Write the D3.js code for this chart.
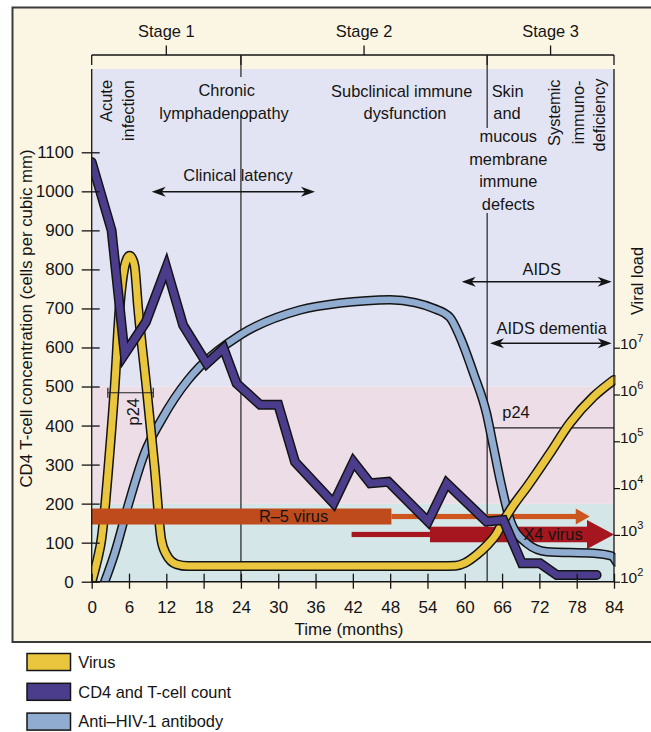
<!DOCTYPE html>
<html><head><meta charset="utf-8">
<script src="https://cdn.jsdelivr.net/npm/d3@7"></script>
<style>html,body{margin:0;padding:0;background:#fff}svg{display:block;font-family:"Liberation Sans",Arial,Helvetica,sans-serif}</style>
</head><body><svg id="c" width="651" height="732"></svg>
<script>
// ---------------- DATA ----------------
const xTicks = [0, 6, 12, 18, 24, 30, 36, 42, 48, 54, 60, 66, 72, 78, 84];
const yTicks = [0, 100, 200, 300, 400, 500, 600, 700, 800, 900, 1000, 1100];
const viralExponents = [2, 3, 4, 5, 6, 7];

const virusMonths = [0, 0.5, 1.0, 1.55, 2.2, 2.7, 3.7, 4.5, 5.3, 5.7, 6.1, 6.5, 6.9, 7.45, 8.8, 10.1, 11.2, 12.0, 13.6, 15.5, 20, 40, 56, 58.5, 60, 62, 63.5, 65, 66.2, 68, 70, 73.7, 76.9, 80.7, 84];
const virusValues = [0, 30, 62, 107, 201, 295, 500, 704, 808, 828, 835, 828, 808, 704, 500, 295, 107, 70, 45, 40, 40, 40, 40, 41, 48, 70, 92, 120, 155, 200, 243, 329, 406, 474, 517];

const cd4Months = [0, 3.2, 5.3, 8.7, 12.0, 14.7, 18.5, 21.2, 23.3, 27.1, 30.0, 32.7, 38.9, 42.1, 44.8, 47.7, 54.1, 57.1, 63.5, 66.2, 69.2, 72.1, 74.8, 81.2];
const cd4Values = [1075, 900, 583, 665, 805, 657, 559, 598, 508, 453, 453, 307, 201, 307, 252, 256, 154, 252, 154, 158, 47, 47, 17, 17];

const antibodyMonths = [2.1, 3.7, 5.8, 8.5, 11.2, 15.5, 17.4, 23.9, 33.5, 40, 44.2, 48, 52, 55, 57.6, 59.2, 61.4, 63.5, 64.6, 65.7, 67.3, 70, 73.2, 80.7, 83.6, 84.4];
const antibodyValues = [0, 73, 192, 329, 414, 517, 551, 632, 696, 714, 720, 722, 715, 700, 677, 628, 534, 431, 346, 260, 158, 98, 77, 73, 66, 50];

const zoneLimits = [0, 200, 500];               // CD4 zones (cells/mm3)
const stageNames = ["Stage 1", "Stage 2", "Stage 3"];
const stageBounds = [0, 24, 63.6, 84];           // months
const r5Span = [0, 48.2, 80.1];                  // band start, band end, arrow tip (months)
const r5Level = 167;                             // CD4 units
const x4Span = [41.8, 54.4, 84];                 // thin start, thick start, tip (months)
const x4Level = 121;
const p24Early = [2.6, 9.9, 484];                // months from, to, level
const p24Late = [63.8, 84, 394];
const legendItems = ["Virus", "CD4 and T-cell count", "Anti\u2013HIV-1 antibody"];

// ---------------- STYLE ----------------
const C = {
  cream: "#fbf6e4", lav: "#e3e4f3", pink: "#ecdde7", cyan: "#d5e6e9",
  virus: "#e9c63e", cd4: "#4b3d8b", ab: "#90acd1", r5: "#bf4b1d", r5thin: "#cc561e", x4: "#a5161f", ink: "#141414"
};
const legendColors = [C.virus, C.cd4, C.ab];
const FS = 16.4;
const FT = 17;

const svg = d3.select("#c");
const L = 91.7, R = 614, B = 581.7, T = 69;
const x = d3.scaleLinear().domain([0, 84]).range([L, R]);
const y = d3.scaleLinear().domain([0, 1100]).range([B, 152.3]);
const yv = d3.scaleLog().domain([1e2, 1e7]).range([B, 347.7]);

// frame
svg.append("rect").attr("x", 12.5).attr("y", 7.5).attr("width", 700).attr("height", 634.5)
  .attr("fill", C.cream).attr("stroke", "#3a3a3a").attr("stroke-width", 2);

// zones
const zoneColors = [C.cyan, C.pink, C.lav];
zoneLimits.forEach((lo, i) => {
  const top = i < zoneLimits.length - 1 ? y(zoneLimits[i + 1]) : T;
  svg.append("rect").attr("x", L).attr("width", R - L).attr("y", top).attr("height", y(lo) - top).attr("fill", zoneColors[i]);
});

// clip
svg.append("clipPath").attr("id", "clip").append("rect").attr("x", L).attr("y", T).attr("width", R - L + 1.5).attr("height", B - T);

const txt = (g, xx, yy, s, anchor = "middle", size = FS) =>
  g.append("text").attr("x", xx).attr("y", yy).attr("dy", "0.35em").attr("text-anchor", anchor)
   .attr("font-size", size).attr("fill", C.ink).text(s);

// stage bracket
const gS = svg.append("g").attr("stroke", C.ink).attr("stroke-width", 1.3).attr("fill", "none");
gS.append("line").attr("x1", x(0)).attr("x2", x(84)).attr("y1", 55).attr("y2", 55);
stageBounds.forEach(m => gS.append("line").attr("x1", x(m)).attr("x2", x(m)).attr("y1", 55).attr("y2", 65));
stageNames.forEach((s, i) => {
  const cx = (x(stageBounds[i]) + x(stageBounds[i + 1])) / 2;
  gS.append("line").attr("x1", cx).attr("x2", cx).attr("y1", 45.5).attr("y2", 55);
  txt(svg, cx, 31.5, s);
});

// vertical stage lines in plot
const gV = svg.append("g").attr("stroke", "#222").attr("stroke-width", 1.2);
gV.append("line").attr("x1", x(24)).attr("x2", x(24)).attr("y1", 55).attr("y2", 77);
gV.append("line").attr("x1", x(24)).attr("x2", x(24)).attr("y1", 115).attr("y2", B);
gV.append("line").attr("x1", x(stageBounds[2])).attr("x2", x(stageBounds[2])).attr("y1", 55).attr("y2", 128);
gV.append("line").attr("x1", x(stageBounds[2])).attr("x2", x(stageBounds[2])).attr("y1", 213).attr("y2", B);

// p24 late line
svg.append("line").attr("x1", x(p24Late[0])).attr("x2", x(p24Late[1])).attr("y1", y(p24Late[2])).attr("y2", y(p24Late[2]))
  .attr("stroke", "#222").attr("stroke-width", 1.2);

// thin arrows (under curves)
const r5y = y(r5Level), x4y = y(x4Level);
svg.append("rect").attr("x", x(r5Span[1])).attr("width", x(r5Span[2]) - 13 - x(r5Span[1])).attr("y", r5y - 2.6).attr("height", 5.2).attr("fill", C.r5thin);
svg.append("path").attr("d", `M${x(r5Span[2])},${r5y} L${x(r5Span[2]) - 14},${r5y - 8} L${x(r5Span[2]) - 14},${r5y + 8} Z`).attr("fill", C.r5thin);
svg.append("rect").attr("x", x(x4Span[0])).attr("width", x(x4Span[1]) - x(x4Span[0])).attr("y", x4y - 2.6).attr("height", 5.2).attr("fill", C.x4);
svg.append("rect").attr("x", x(x4Span[1])).attr("width", x(x4Span[2]) - 27 - x(x4Span[1])).attr("y", x4y - 7.8).attr("height", 15.6).attr("fill", C.x4);
svg.append("path").attr("d", `M${x(x4Span[2])},${x4y} L${x(x4Span[2]) - 27},${x4y - 14.5} L${x(x4Span[2]) - 27},${x4y + 14.5} Z`).attr("fill", C.x4);

// curves
const gC = svg.append("g").attr("clip-path", "url(#clip)");
const smooth = d3.line().x(d => x(d[0])).y(d => y(d[1])).curve(d3.curveMonotoneX);
const poly = d3.line().x(d => x(d[0])).y(d => y(d[1]));
function thick(g, d, color, w, join) {
  g.append("path").attr("d", d).attr("fill", "none").attr("stroke", C.ink).attr("stroke-width", w + 3)
    .attr("stroke-linejoin", join).attr("stroke-linecap", "round");
  g.append("path").attr("d", d).attr("fill", "none").attr("stroke", color).attr("stroke-width", w)
    .attr("stroke-linejoin", join).attr("stroke-linecap", "round");
}
thick(gC, smooth(d3.zip(antibodyMonths, antibodyValues)), C.ab, 6.5, "round");
thick(gC, smooth(d3.zip(virusMonths, virusValues)), C.virus, 7, "round");

// R-5 thick band
svg.append("rect").attr("x", x(r5Span[0])).attr("width", x(r5Span[1]) - x(r5Span[0])).attr("y", r5y - 8).attr("height", 16).attr("fill", C.r5);
txt(svg, 293.5, r5y, "R\u20135 virus");

const gC2 = svg.append("g").attr("clip-path", "url(#clip)");
thick(gC2, poly(d3.zip(cd4Months, cd4Values)), C.cd4, 7, "miter");

txt(svg, 553, x4y, "X4 virus");

// p24 early marker
const gp = svg.append("g").attr("stroke", "#222").attr("stroke-width", 1.2);
const py = y(p24Early[2]);
gp.append("line").attr("x1", x(p24Early[0])).attr("x2", x(p24Early[1])).attr("y1", py).attr("y2", py);
[p24Early[0], p24Early[1]].forEach(m => gp.append("line").attr("x1", x(m)).attr("x2", x(m)).attr("y1", py - 5).attr("y2", py + 5));
txt(svg, 0, 0, "p24").attr("transform", `translate(133,${py + 19}) rotate(-90)`).attr("dy", "0.35em");
txt(svg, 516, y(p24Late[2]) - 15.5, "p24");

// axes
const ax = svg.append("g");
const gl = ax.append("g").attr("transform", `translate(${L},0)`)
  .call(d3.axisLeft(y).tickValues(yTicks).tickSize(10).tickPadding(8).tickFormat(d3.format("d")));
gl.select(".domain").remove();
gl.selectAll(".tick line").attr("x1", 8).attr("stroke", C.ink).attr("stroke-width", 1.3);
gl.selectAll(".tick text").attr("font-size", FT).attr("fill", C.ink).attr("font-family", "Liberation Sans, Arial, sans-serif");
ax.append("line").attr("x1", L).attr("x2", L).attr("y1", T).attr("y2", B).attr("stroke", C.ink).attr("stroke-width", 1.3);

const gb = ax.append("g").attr("transform", `translate(0,${B})`)
  .call(d3.axisBottom(x).tickValues(xTicks).tickSize(7).tickPadding(12).tickFormat(d3.format("d")));
gb.select(".domain").remove();
gb.selectAll(".tick line").attr("y1", -8).attr("stroke", C.ink).attr("stroke-width", 1.3);
gb.selectAll(".tick text").attr("font-size", FT).attr("fill", C.ink).attr("font-family", "Liberation Sans, Arial, sans-serif");
ax.append("line").attr("x1", L).attr("x2", R).attr("y1", B).attr("y2", B).attr("stroke", C.ink).attr("stroke-width", 1.5);

const gr = ax.append("g").attr("transform", `translate(${R},0)`)
  .call(d3.axisRight(yv).tickValues(viralExponents.map(e => Math.pow(10, e))).tickSize(6).tickFormat(""));
gr.select(".domain").remove();
gr.selectAll(".tick line").attr("stroke", C.ink).attr("stroke-width", 1.2);
ax.append("line").attr("x1", R).attr("x2", R).attr("y1", T).attr("y2", B).attr("stroke", C.ink).attr("stroke-width", 1.3);
viralExponents.forEach(e => {
  const t = ax.append("text").attr("x", R + 6).attr("y", yv(Math.pow(10, e)) + 1.5).attr("font-size", 15.5).attr("fill", C.ink);
  t.append("tspan").text("10");
  t.append("tspan").attr("dy", -7).attr("font-size", 11).text(e);
});

// axis titles
txt(svg, 0, 0, "CD4 T-cell concentration (cells per cubic mm)", "middle", 16.8).attr("transform", "translate(26,318.5) rotate(-90)");
txt(svg, 349, 629.5, "Time (months)", "middle", 17);
txt(svg, 0, 0, "Viral load").attr("transform", "translate(637,281) rotate(-90)");

// annotations
const rot = (xx, yy, s) => txt(svg, 0, 0, s, "end").attr("transform", `translate(${xx},${yy}) rotate(-90)`);
rot(106, 80, "Acute"); rot(128.3, 80, "infection");
rot(554, 79.5, "Systemic"); rot(578, 80.5, "immuno-"); rot(599, 78.5, "deficiency");
txt(svg, 226.7, 90.7, "Chronic"); txt(svg, 224, 113, "lymphadenopathy");
txt(svg, 401.7, 91.5, "Subclinical immune"); txt(svg, 405, 113, "dysfunction");
txt(svg, 491.7, 91.5, "Skin", "start"); txt(svg, 493.3, 113, "and", "start");
["mucous", "membrane", "immune", "defects"].forEach((s, i) => txt(svg, 508.3, 136.7 + i * 22.5, s));
txt(svg, 238, 175, "Clinical latency");
txt(svg, 541.7, 269, "AIDS");
txt(svg, 551.7, 328.3, "AIDS dementia");

function dbl(x1, x2, yy) {
  svg.append("line").attr("x1", x1 + 6).attr("x2", x2 - 6).attr("y1", yy).attr("y2", yy).attr("stroke", C.ink).attr("stroke-width", 1.4);
  svg.append("path").attr("fill", C.ink).attr("d",
    `M${x1},${yy} L${x1 + 14},${yy - 5} L${x1 + 10},${yy} L${x1 + 14},${yy + 5} Z M${x2},${yy} L${x2 - 14},${yy - 5} L${x2 - 10},${yy} L${x2 - 14},${yy + 5} Z`);
}
dbl(151.7, 315, 191.7);
dbl(461.7, 611.7, 281.7);
dbl(490, 611.7, 343.3);

// legend
legendItems.forEach((s, i) => {
  const cy = 662 + i * 29.8;
  svg.append("rect").attr("x", 27).attr("y", cy - 8.5).attr("width", 43.5).attr("height", 17)
    .attr("fill", legendColors[i]).attr("stroke", C.ink).attr("stroke-width", 1.5);
  txt(svg, 78.3, cy, s, "start");
});
</script></body></html>
